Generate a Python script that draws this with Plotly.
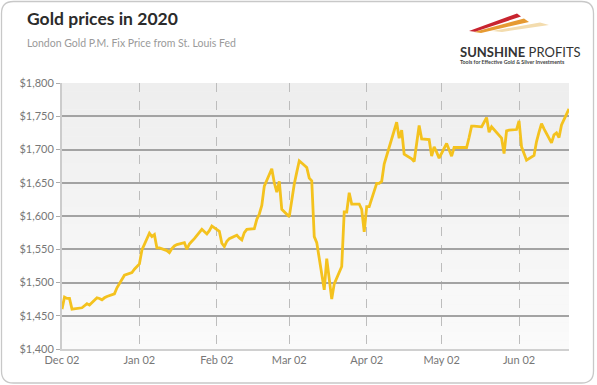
import plotly.graph_objects as go

dates = [
    "2019-12-02", "2019-12-03", "2019-12-04", "2019-12-05", "2019-12-06",
    "2019-12-09", "2019-12-10", "2019-12-11", "2019-12-12", "2019-12-13",
    "2019-12-16", "2019-12-17", "2019-12-18", "2019-12-19", "2019-12-20",
    "2019-12-23", "2019-12-24", "2019-12-27", "2019-12-30", "2019-12-31",
    "2020-01-02", "2020-01-03", "2020-01-06", "2020-01-07", "2020-01-08",
    "2020-01-09", "2020-01-10", "2020-01-13", "2020-01-14", "2020-01-15",
    "2020-01-16", "2020-01-17", "2020-01-20", "2020-01-21", "2020-01-22",
    "2020-01-23", "2020-01-24", "2020-01-27", "2020-01-28", "2020-01-29",
    "2020-01-30", "2020-01-31", "2020-02-03", "2020-02-04", "2020-02-05",
    "2020-02-06", "2020-02-07", "2020-02-10", "2020-02-11", "2020-02-12",
    "2020-02-13", "2020-02-14", "2020-02-17", "2020-02-18", "2020-02-19",
    "2020-02-20", "2020-02-21", "2020-02-24", "2020-02-25", "2020-02-26",
    "2020-02-27", "2020-02-28", "2020-03-02", "2020-03-03", "2020-03-04",
    "2020-03-05", "2020-03-06", "2020-03-09", "2020-03-10", "2020-03-11",
    "2020-03-12", "2020-03-13", "2020-03-16", "2020-03-17", "2020-03-18",
    "2020-03-19", "2020-03-20", "2020-03-23", "2020-03-24", "2020-03-25",
    "2020-03-26", "2020-03-27", "2020-03-30", "2020-03-31", "2020-04-01",
    "2020-04-02", "2020-04-03", "2020-04-06", "2020-04-07", "2020-04-08",
    "2020-04-09", "2020-04-14", "2020-04-15", "2020-04-16", "2020-04-17",
    "2020-04-20", "2020-04-21", "2020-04-22", "2020-04-23", "2020-04-24",
    "2020-04-27", "2020-04-28", "2020-04-29", "2020-04-30", "2020-05-01",
    "2020-05-04", "2020-05-05", "2020-05-06", "2020-05-07", "2020-05-11",
    "2020-05-12", "2020-05-13", "2020-05-14", "2020-05-15", "2020-05-18",
    "2020-05-19", "2020-05-20", "2020-05-21", "2020-05-22", "2020-05-26",
    "2020-05-27", "2020-05-28", "2020-05-29", "2020-06-01", "2020-06-02",
    "2020-06-03", "2020-06-04", "2020-06-05", "2020-06-08", "2020-06-09",
    "2020-06-10", "2020-06-11", "2020-06-12", "2020-06-15", "2020-06-16",
    "2020-06-17", "2020-06-18", "2020-06-19", "2020-06-22",
]

prices = [
    1460, 1478, 1476, 1476, 1460,
    1461, 1462, 1465, 1468, 1466,
    1477, 1476, 1474, 1477, 1479,
    1483, 1492, 1511, 1515, 1520,
    1528, 1549, 1574, 1569, 1572,
    1552, 1552, 1548, 1545, 1551,
    1555, 1557, 1560, 1550, 1558,
    1562, 1566, 1580, 1577, 1573,
    1578, 1585, 1577, 1559, 1554,
    1562, 1566, 1571, 1567, 1564,
    1575, 1580, 1581, 1595, 1603,
    1616, 1645, 1671, 1650, 1636,
    1652, 1610, 1599, 1625, 1648,
    1666, 1683, 1673, 1657, 1653,
    1569, 1560, 1489, 1536, 1500,
    1475, 1498, 1524, 1606, 1606,
    1635, 1618, 1618, 1610, 1576,
    1614, 1614, 1649, 1649, 1652,
    1678, 1741, 1717, 1729, 1693,
    1686, 1682, 1710, 1736, 1716,
    1715, 1690, 1704, 1696, 1687,
    1709, 1700, 1690, 1703, 1703,
    1703, 1718, 1735, 1735, 1734,
    1741, 1748, 1726, 1734, 1717,
    1694, 1728, 1729, 1730, 1743,
    1704, 1695, 1684, 1691, 1712,
    1726, 1739, 1731, 1710, 1722,
    1725, 1718, 1737, 1761,
]

y_ticks = [1400, 1450, 1500, 1550, 1600, 1650, 1700, 1750, 1800]
y_tick_labels = ["$1,400", "$1,450", "$1,500", "$1,550", "$1,600",
                 "$1,650", "$1,700", "$1,750", "$1,800"]
x_ticks = ["2019-12-02", "2020-01-02", "2020-02-02", "2020-03-02",
           "2020-04-02", "2020-05-02", "2020-06-02"]
x_tick_labels = ["Dec 02", "Jan 02", "Feb 02", "Mar 02", "Apr 02", "May 02", "Jun 02"]
x_range = ["2019-12-02", "2020-06-22"]

title_text = "Gold prices in 2020"
subtitle_text = "London Gold P.M. Fix Price from St. Louis Fed"

W, H = 597, 385
L, R, T, B = 62, 569, 83, 349


def px(x):
    return (x - L) / (R - L)


def py(y):
    return (B - y) / (B - T)


FONT = "Lato, 'Open Sans', sans-serif"

fig = go.Figure()
fig.add_trace(go.Scatter(
    x=dates, y=prices, mode="lines",
    line=dict(color="#F4C21E", width=2.8),
    hoverinfo="skip", showlegend=False,
))

shapes = []
# plot-area vertical gradient
n = 30
for i in range(n):
    t = i / (n - 1)
    c = int(round(238 + (250 - 238) * t))
    shapes.append(dict(
        type="rect", xref="x domain", yref="y domain",
        x0=0, x1=1, y0=1 - (i + 1) / n, y1=1 - i / n,
        fillcolor=f"rgb({c},{c},{c})", line=dict(width=0), layer="below",
    ))


def P(x, y):
    return f"{px(x):.5f},{py(y):.5f}"


# rounded card border
x0c, y0c, x1c, y1c, r = 1.5, 1.5, 593.5, 383, 12
path = (
    f"M {P(x0c + r, y0c)} L {P(x1c - r, y0c)} Q {P(x1c, y0c)} {P(x1c, y0c + r)} "
    f"L {P(x1c, y1c - r)} Q {P(x1c, y1c)} {P(x1c - r, y1c)} "
    f"L {P(x0c + r, y1c)} Q {P(x0c, y1c)} {P(x0c, y1c - r)} "
    f"L {P(x0c, y0c + r)} Q {P(x0c, y0c)} {P(x0c + r, y0c)} Z"
)
shapes.append(dict(type="path", xref="paper", yref="paper", path=path,
                   line=dict(color="#c8c8c8", width=1.3), fillcolor="rgba(0,0,0,0)",
                   layer="above"))


# logo streaks
def wedge(a, b, c, d, color):
    return dict(type="path", xref="paper", yref="paper",
                path=f"M {P(*a)} L {P(*b)} L {P(*c)} L {P(*d)} Z",
                fillcolor=color, line=dict(width=0), layer="above")


shapes.append(wedge((492, 31), (540, 22.5), (549, 25), (502, 32), "#f3dcae"))
shapes.append(wedge((474, 32), (524, 18.5), (529, 22), (481, 33), "#e69a32"))
shapes.append(wedge((469, 31), (517, 13.5), (521, 16.5), (475, 31.8), "#c8242f"))

annotations = [
    dict(text=f"<b>{title_text}</b>", x=px(25), y=py(18), xref="paper", yref="paper",
         xanchor="left", yanchor="middle", showarrow=False,
         font=dict(family=FONT, size=17.5, color="#2b2b2b")),
    dict(text=subtitle_text, x=px(25), y=py(43), xref="paper", yref="paper",
         xanchor="left", yanchor="middle", showarrow=False,
         font=dict(family=FONT, size=10.5, color="#9a9a9a")),
    dict(text="<b>SUNSHINE</b> PROFITS", x=px(458), y=py(52), xref="paper", yref="paper",
         xanchor="left", yanchor="middle", showarrow=False,
         font=dict(family=FONT, size=13, color="#333333")),
    dict(text="<b>Tools for Effective Gold &amp; Silver Investments</b>", x=px(458), y=py(61.5),
         xref="paper", yref="paper", xanchor="left", yanchor="middle", showarrow=False,
         font=dict(family=FONT, size=5.3, color="#444444")),
]

fig.update_layout(
    width=W, height=H,
    margin=dict(l=L, r=W - R, t=T, b=H - B, pad=0),
    paper_bgcolor="white", plot_bgcolor="#f4f4f4",
    shapes=shapes, annotations=annotations,
    font=dict(family=FONT, size=11, color="#777777"),
    xaxis=dict(
        type="date", range=x_range, tickvals=x_ticks, ticktext=x_tick_labels,
        showgrid=True, gridcolor="#bdbdbd", gridwidth=1, griddash="dash",
        showline=True, linecolor="#d0d0d0", linewidth=1.5,
        ticks="", zeroline=False, fixedrange=True,
        tickfont=dict(family=FONT, size=11, color="#777777"),
    ),
    yaxis=dict(
        range=[1400, 1800], tickvals=y_ticks, ticktext=y_tick_labels,
        showgrid=True, gridcolor="#a3a3a3", gridwidth=1.5,
        showline=True, linecolor="#cccccc", linewidth=2,
        ticks="outside", ticklen=4, tickcolor="#aaaaaa", tickwidth=1,
        zeroline=False, fixedrange=True,
        tickfont=dict(family=FONT, size=11, color="#777777"),
    ),
)

fig.write_html("out.html")
